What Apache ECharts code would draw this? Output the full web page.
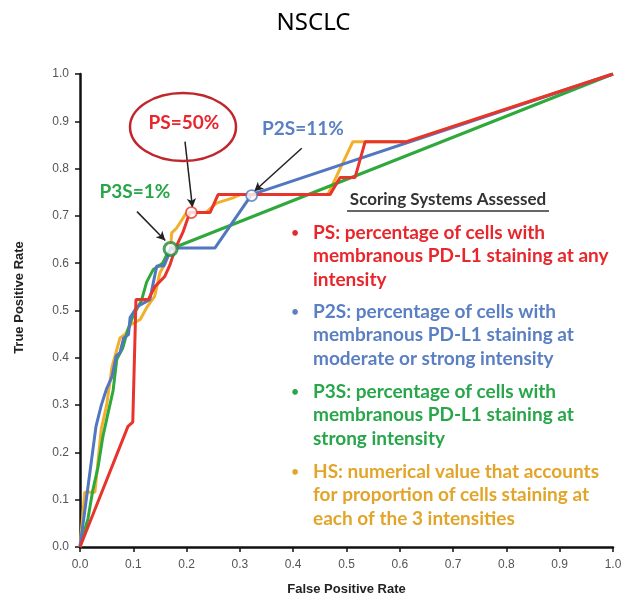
<!DOCTYPE html>
<html>
<head>
<meta charset="utf-8">
<script src="https://cdn.jsdelivr.net/npm/echarts@6/dist/echarts.min.js"></script>
<style>html,body{margin:0;padding:0;background:#fff}#c{width:627px;height:601px}</style>
</head>
<body>
<div id="c"></div>
<script>
// ---- data ----
const xTicks = [0.0, 0.1, 0.2, 0.3, 0.4, 0.5, 0.6, 0.7, 0.8, 0.9, 1.0];
const yTicks = [0.0, 0.1, 0.2, 0.3, 0.4, 0.5, 0.6, 0.7, 0.8, 0.9, 1.0];

const psX  = [0, 0.090, 0.099, 0.105, 0.128, 0.141, 0.159, 0.169, 0.178, 0.193, 0.206, 0.244, 0.259, 0.469, 0.488, 0.516, 0.535, 0.613, 1.0];
const psY  = [0, 0.255, 0.264, 0.523, 0.523, 0.551, 0.572, 0.597, 0.629, 0.665, 0.707, 0.707, 0.745, 0.745, 0.781, 0.781, 0.857, 0.857, 1.0];

const p2sX = [0, 0.030, 0.040, 0.050, 0.060, 0.068, 0.075, 0.082, 0.091, 0.094, 0.107, 0.131, 0.144, 0.157, 0.167, 0.170, 0.253, 0.322, 1.0];
const p2sY = [0, 0.255, 0.300, 0.335, 0.360, 0.404, 0.411, 0.442, 0.449, 0.485, 0.508, 0.523, 0.594, 0.594, 0.620, 0.632, 0.632, 0.745, 1.0];

const p3sX = [0, 0.015, 0.024, 0.034, 0.043, 0.053, 0.062, 0.069, 0.080, 0.090, 0.100, 0.115, 0.125, 0.137, 0.155, 0.163, 0.170, 1.0];
const p3sY = [0, 0.060, 0.120, 0.170, 0.234, 0.285, 0.330, 0.397, 0.420, 0.460, 0.490, 0.520, 0.560, 0.586, 0.600, 0.618, 0.630, 1.0];

const hsX  = [0, 0.009, 0.028, 0.040, 0.050, 0.060, 0.075, 0.085, 0.095, 0.113, 0.125, 0.140, 0.150, 0.160, 0.170, 0.172, 0.181, 0.200, 0.236, 0.256, 0.287, 0.300, 0.465, 0.512, 0.613, 1.0];
const hsY  = [0, 0.116, 0.116, 0.250, 0.300, 0.380, 0.442, 0.450, 0.470, 0.481, 0.506, 0.530, 0.580, 0.600, 0.630, 0.664, 0.674, 0.707, 0.707, 0.727, 0.738, 0.745, 0.745, 0.857, 0.857, 1.0];

// threshold points marked with hollow circles
const cutNames = ['PS=50%', 'P2S=11%', 'P3S=1%'];
const cutX = [0.209, 0.322, 0.170];
const cutY = [0.707, 0.743, 0.630];

// arrows (data coordinates: from -> to)
const arrowFrom = [[0.197, 0.857], [0.416, 0.843], [0.107, 0.709]];
const arrowTo   = [[0.211, 0.718], [0.327, 0.752], [0.160, 0.648]];

const legendBlocks = [
  ['PS: percentage of cells with', 'membranous PD-L1 staining at any', 'intensity'],
  ['P2S: percentage of cells with', 'membranous PD-L1 staining at', 'moderate or strong intensity'],
  ['P3S: percentage of cells with', 'membranous PD-L1 staining at', 'strong intensity'],
  ['HS: numerical value that accounts', 'for proportion of cells staining at', 'each of the 3 intensities']
];

const lineColors = ['#e8342c', '#5077c0', '#2fa83c', '#f2b02a'];
const textColors = ['#e8262b', '#5a7fc2', '#27a64a', '#e2a52a'];

function zip(a, b) { return a.map((v, i) => [v, b[i]]); }

const chart = echarts.init(document.getElementById('c'));

const axisCommon = {
  type: 'value', min: 0, max: 1, interval: 0.1,
  axisLine: { show: true, lineStyle: { color: '#111', width: 2.5 } },
  axisTick: { show: true, inside: false, length: 5, lineStyle: { color: '#111', width: 1.5 } },
  splitLine: { show: false },
  axisLabel: { color: '#555', fontSize: 12, fontFamily: 'Liberation Sans', formatter: v => v.toFixed(1) },
  nameLocation: 'middle',
  nameTextStyle: { color: '#222', fontSize: 13, fontWeight: 'bold', fontFamily: 'Liberation Sans' }
};

const graphics = [];
// heading
graphics.push({ type: 'text', x: 448, y: 200, z: 100,
  style: { text: 'Scoring Systems Assessed', fill: '#333', font: 'bold 17px Lato', align: 'center', verticalAlign: 'middle' } });
graphics.push({ type: 'line', z: 100, shape: { x1: 347, y1: 211, x2: 549, y2: 211 }, style: { stroke: '#333', lineWidth: 1.3 } });
const blockTop = [233, 312, 392, 472];
legendBlocks.forEach((blk, b) => {
  graphics.push({ type: 'text', x: 295, y: blockTop[b], z: 100,
    style: { text: '•', fill: textColors[b], font: '15px Lato', align: 'center', verticalAlign: 'middle' } });
  blk.forEach((t, j) => {
    graphics.push({ type: 'text', x: 313, y: blockTop[b] + j * 23.3, z: 100,
      style: { text: t, fill: textColors[b], font: 'bold 19px Lato', verticalAlign: 'middle' } });
  });
});
// ellipse around PS=50%
graphics.push({ type: 'ellipse', z: 100, shape: { cx: 183, cy: 127, rx: 53, ry: 34 },
  style: { fill: 'none', stroke: '#c0272d', lineWidth: 2.5 } });
graphics.push({ type: 'text', z: 100, x: 184, y: 123,
  style: { text: 'PS=50%', fill: '#e8262b', font: 'bold 19px Lato', align: 'center', verticalAlign: 'middle' } });
graphics.push({ type: 'text', z: 100, x: 303, y: 129,
  style: { text: 'P2S=11%', fill: '#5a7fc2', font: 'bold 19px Lato', align: 'center', verticalAlign: 'middle' } });
graphics.push({ type: 'text', z: 100, x: 135, y: 192,
  style: { text: 'P3S=1%', fill: '#27a64a', font: 'bold 19px Lato', align: 'center', verticalAlign: 'middle' } });

const option = {
  animation: false,
  backgroundColor: '#fff',
  title: { text: 'NSCLC', left: 'center', top: 6,
    textStyle: { fontSize: 24, fontWeight: 'normal', color: '#000', fontFamily: 'Noto Sans' } },
  grid: { left: 80, right: 14, top: 74, bottom: 53, containLabel: false },
  xAxis: Object.assign({}, axisCommon, { name: 'False Positive Rate', nameGap: 36,
    axisLabel: Object.assign({}, axisCommon.axisLabel, { margin: 12 }) }),
  yAxis: Object.assign({}, axisCommon, { name: 'True Positive Rate', nameGap: 54,
    nameTextStyle: Object.assign({}, axisCommon.nameTextStyle, { padding: [0, 0, 0, 26] }),
    axisLabel: Object.assign({}, axisCommon.axisLabel, { margin: 11 }) }),
  series: [
    { name: 'HS', type: 'line', data: zip(hsX, hsY), showSymbol: false, symbol: 'none',
      lineStyle: { color: lineColors[3], width: 3 }, z: 2 },
    { name: 'P3S', type: 'line', data: zip(p3sX, p3sY), showSymbol: false, symbol: 'none',
      lineStyle: { color: lineColors[2], width: 3 }, z: 3 },
    { name: 'P2S', type: 'line', data: zip(p2sX, p2sY), showSymbol: false, symbol: 'none',
      lineStyle: { color: lineColors[1], width: 3 }, z: 4 },
    { name: 'PS', type: 'line', data: zip(psX, psY), showSymbol: false, symbol: 'none',
      lineStyle: { color: lineColors[0], width: 3 }, z: 5,
      markLine: { silent: true, symbol: ['none', 'arrow'], symbolSize: [7, 9],
        label: { show: false },
        lineStyle: { color: '#222', width: 1.5, type: 'solid' },
        data: arrowFrom.map((f, i) => [{ coord: f }, { coord: arrowTo[i] }]) } },
    { name: 'cuts', type: 'scatter', z: 6,
      data: cutX.map((x, i) => ({ value: [x, cutY[i]], name: cutNames[i],
        symbolSize: i === 2 ? 13 : 11,
        itemStyle: { color: '#fff', borderColor: i === 0 ? '#e8342c' : (i === 1 ? '#5077c0' : '#1f8a3a'), borderWidth: i === 2 ? 3 : 1.8 } })) }
  ],
  graphic: graphics
};
chart.setOption(option);
</script>
</body>
</html>
